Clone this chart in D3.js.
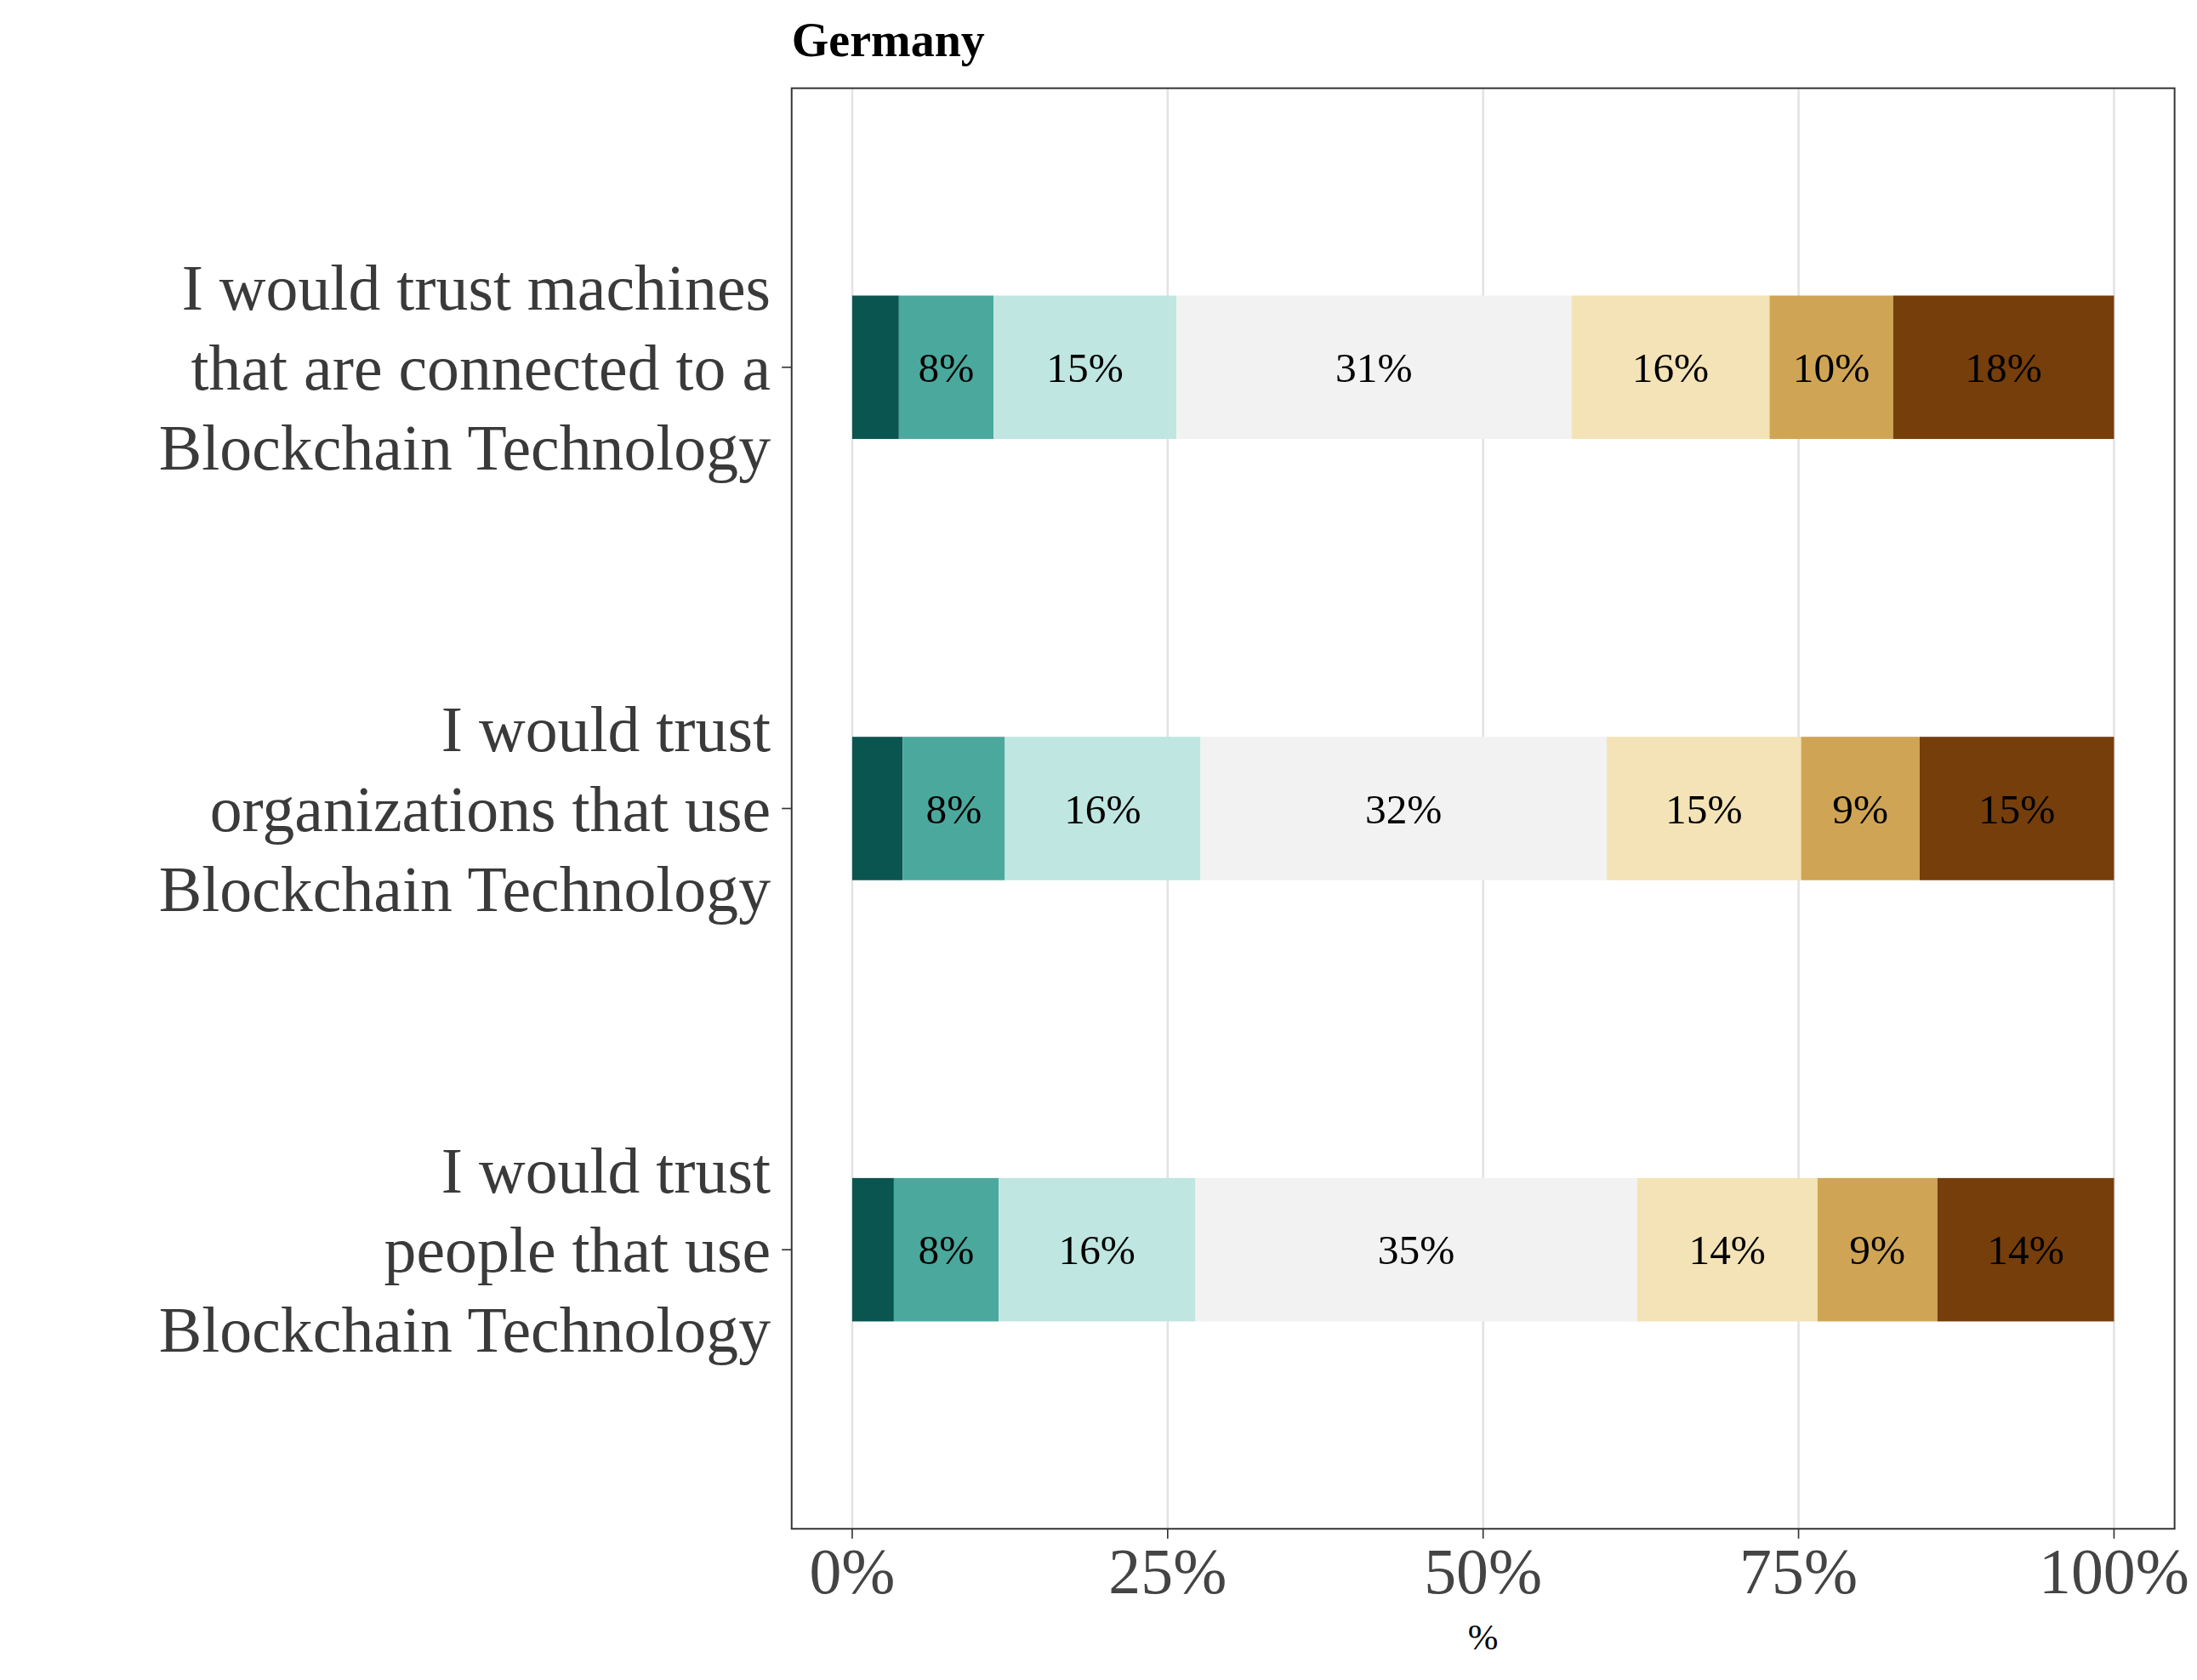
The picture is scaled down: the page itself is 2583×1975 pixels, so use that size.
<!DOCTYPE html>
<html><head><meta charset="utf-8">
<script src="https://cdn.jsdelivr.net/npm/d3@7"></script>
<style>body{margin:0;background:#fff}</style>
</head><body>
<svg id="chart" width="2583" height="1975" viewBox="0 0 1568 1200" preserveAspectRatio="none"></svg>
<script>
// statements (top to bottom)
const statements = [
  ["I would trust machines", "that are connected to a", "Blockchain Technology"],
  ["I would trust", "organizations that use", "Blockchain Technology"],
  ["I would trust", "people that use", "Blockchain Technology"]
];
// segment shares per statement, left to right (percent)
const shares = [
  [3.7, 7.5, 14.5, 31.3, 15.7, 9.8, 17.5],
  [4.0, 8.1, 15.5, 32.2, 15.4, 9.4, 15.4],
  [3.3, 8.3, 15.6, 35.0, 14.3, 9.5, 14.0]
];
// printed labels (null = not shown)
const labels = [
  [null, "8%", "15%", "31%", "16%", "10%", "18%"],
  [null, "8%", "16%", "32%", "15%", "9%", "15%"],
  [null, "8%", "16%", "35%", "14%", "9%", "14%"]
];
const colors = ["#0b5550", "#4ba89c", "#bfe6e0", "#f2f2f2", "#f3e3b6", "#cfa555", "#763e0b"];
const xTicks = [0, 25, 50, 75, 100];

const svg = d3.select("#chart");
const font = "'Liberation Serif', 'DejaVu Serif', serif";
const panel = {left: 565, right: 1552, top: 63, bottom: 1092};

const x = d3.scaleLinear().domain([-4.8, 104.8]).range([panel.left, panel.right]);
const y = d3.scaleBand().domain(d3.range(statements.length))
  .range([panel.top, panel.bottom]).paddingInner(0.675).paddingOuter(0.47);

// grid
svg.append("g").selectAll("line").data(xTicks).join("line")
  .attr("x1", d => x(d)).attr("x2", d => x(d))
  .attr("y1", panel.top).attr("y2", panel.bottom)
  .attr("stroke", "#e3e3e3").attr("stroke-width", 1.6);

// bars
shares.forEach((row, i) => {
  let cum = 0;
  const segs = row.map((v, j) => { const s = {start: cum, v, j}; cum += v; return s; });
  const g = svg.append("g");
  g.selectAll("rect").data(segs).join("rect")
    .attr("x", d => x(d.start)).attr("width", d => x(d.start + d.v) - x(d.start))
    .attr("y", y(i)).attr("height", y.bandwidth())
    .attr("fill", d => colors[d.j]);
  g.selectAll("text").data(segs.filter(d => labels[i][d.j])).join("text")
    .attr("x", d => x(d.start + d.v / 2)).attr("y", y(i) + y.bandwidth() / 2)
    .attr("dy", "0.35em").attr("text-anchor", "middle")
    .attr("font-family", font).attr("font-size", 30).attr("fill", "#000")
    .text(d => labels[i][d.j]);
});

// panel border
svg.append("rect").attr("x", panel.left).attr("y", panel.top)
  .attr("width", panel.right - panel.left).attr("height", panel.bottom - panel.top)
  .attr("fill", "none").attr("stroke", "#333").attr("stroke-width", 1.2);

// x axis
const xa = svg.append("g");
xa.selectAll("line").data(xTicks).join("line")
  .attr("x1", d => x(d)).attr("x2", d => x(d))
  .attr("y1", panel.bottom).attr("y2", panel.bottom + 7).attr("stroke", "#333");
xa.selectAll("text").data(xTicks).join("text")
  .attr("x", d => x(d)).attr("y", panel.bottom + 46).attr("text-anchor", "middle")
  .attr("font-family", font).attr("font-size", 46).attr("fill", "#444")
  .text(d => d + "%");
svg.append("text").attr("x", (panel.left + panel.right) / 2).attr("y", 1178)
  .attr("text-anchor", "middle").attr("font-family", font).attr("font-size", 26)
  .attr("fill", "#000").text("%");

// y axis
statements.forEach((lines, i) => {
  const cy = y(i) + y.bandwidth() / 2;
  svg.append("line").attr("x1", panel.left - 7).attr("x2", panel.left)
    .attr("y1", cy).attr("y2", cy).attr("stroke", "#333");
  const t = svg.append("text").attr("text-anchor", "end")
    .attr("font-family", font).attr("font-size", 46).attr("fill", "#3a3a3a");
  lines.forEach((l, k) => t.append("tspan").attr("x", 550)
    .attr("y", cy + (k - 1) * 57 + 16).text(l));
});

// title
svg.append("text").attr("x", 565).attr("y", 40)
  .attr("font-family", font).attr("font-size", 34).attr("font-weight", "bold")
  .text("Germany");
</script>
</body></html>
